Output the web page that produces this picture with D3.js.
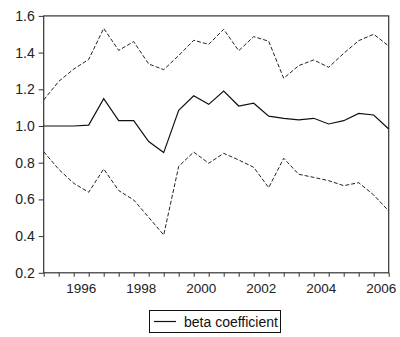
<!DOCTYPE html>
<html lang="en">
<head>
  <meta charset="UTF-8">
  <title>Beta coefficient</title>
  <script src="https://d3js.org/d3.v7.min.js"></script>
  <style>
    body {
      margin: 0;
      background: #fff;
      font-family: "Liberation Sans", Arial, sans-serif;
    }
    svg {
      display: block;
    }
    .axis path, .axis line {
      stroke: #333;
    }
    .axis text {
      fill: #222;
    }
  </style>
</head>
<body>
  <div id="chart"></div>

  <script>
    // semiannual observations, 1995H1 .. 2006H2
    const periods = ["1995H1","1995H2","1996H1","1996H2","1997H1","1997H2","1998H1","1998H2",
                     "1999H1","1999H2","2000H1","2000H2","2001H1","2001H2","2002H1","2002H2",
                     "2003H1","2003H2","2004H1","2004H2","2005H1","2005H2","2006H1","2006H2"];
    const beta  = [1.00, 1.00, 1.00, 1.005, 1.149, 1.029, 1.029, 0.915, 0.855, 1.085, 1.165, 1.118,
                   1.191, 1.109, 1.124, 1.054, 1.042, 1.033, 1.042, 1.011, 1.029, 1.069, 1.060, 0.984];
    const upper = [1.142, 1.243, 1.31, 1.363, 1.532, 1.412, 1.46, 1.338, 1.307, 1.384, 1.467, 1.445,
                   1.527, 1.41, 1.487, 1.462, 1.26, 1.329, 1.36, 1.32, 1.396, 1.465, 1.50, 1.436];
    const lower = [0.86, 0.764, 0.688, 0.639, 0.766, 0.648, 0.597, 0.502, 0.406, 0.78, 0.858, 0.797,
                   0.851, 0.815, 0.775, 0.664, 0.824, 0.737, 0.72, 0.702, 0.675, 0.691, 0.624, 0.537];
    const yTicks = [0.2, 0.4, 0.6, 0.8, 1.0, 1.2, 1.4, 1.6];
    const yearLabels = ["1996", "1998", "2000", "2002", "2004", "2006"];

    const w = 400;
    const h = 337;
    const plotLeft = 43.7, plotRight = 388.7, plotTop = 15.9, plotBottom = 272.8;

    const svg = d3.select("#chart")
                  .append("svg")
                  .attr("width", w)
                  .attr("height", h);

    const xScale = d3.scaleLinear()
                     .domain([0, periods.length - 1])
                     .range([plotLeft, plotRight]);

    const yScale = d3.scaleLinear()
                     .domain([0.2, 1.6])
                     .range([plotBottom, plotTop]);

    // frame
    svg.append("rect")
       .attr("x", plotLeft)
       .attr("y", plotTop)
       .attr("width", plotRight - plotLeft)
       .attr("height", plotBottom - plotTop)
       .attr("fill", "#fff")
       .attr("stroke", "#333")
       .attr("stroke-width", 1.2);

    // x axis: a tick at every observation, labels at the first half of even years
    svg.append("g")
       .attr("class", "axis")
       .attr("transform", `translate(0, ${plotBottom})`)
       .call(d3.axisBottom(xScale)
               .tickValues(d3.range(periods.length))
               .tickSize(4)
               .tickFormat(""))
       .call(g => g.select(".domain").remove());

    svg.append("g")
       .selectAll("text")
       .data(yearLabels)
       .enter()
       .append("text")
       .attr("x", d => xScale(periods.indexOf(d + "H1") + 0.5))
       .attr("y", plotBottom + 20.5)
       .attr("text-anchor", "middle")
       .attr("font-size", "13.5px")
       .attr("fill", "#222")
       .text(d => d);

    svg.append("g")
       .attr("class", "axis")
       .attr("transform", `translate(${plotLeft}, 0)`)
       .call(d3.axisLeft(yScale)
               .tickValues(yTicks)
               .tickSize(5)
               .tickPadding(4)
               .tickFormat(d3.format(".1f")))
       .call(g => g.select(".domain").remove())
       .call(g => g.selectAll("text").attr("font-size", "14px").attr("font-family", "Liberation Sans, Arial, sans-serif"));

    const line = d3.line()
                   .x((d, i) => xScale(i))
                   .y(d => yScale(d));

    svg.append("path")
       .datum(upper)
       .attr("d", line)
       .attr("fill", "none")
       .attr("stroke", "#222")
       .attr("stroke-width", 1)
       .attr("stroke-dasharray", "4,2");

    svg.append("path")
       .datum(lower)
       .attr("d", line)
       .attr("fill", "none")
       .attr("stroke", "#222")
       .attr("stroke-width", 1)
       .attr("stroke-dasharray", "4,2");

    svg.append("path")
       .datum(beta)
       .attr("d", line)
       .attr("fill", "none")
       .attr("stroke", "#111")
       .attr("stroke-width", 1.2);

    // legend
    const legend = svg.append("g");
    legend.append("rect")
          .attr("x", 149.5)
          .attr("y", 310.5)
          .attr("width", 131)
          .attr("height", 22)
          .attr("fill", "#fff")
          .attr("stroke", "#111");
    legend.append("line")
          .attr("x1", 154)
          .attr("x2", 176)
          .attr("y1", 321.5)
          .attr("y2", 321.5)
          .attr("stroke", "#111")
          .attr("stroke-width", 1.2);
    legend.append("text")
          .attr("x", 184)
          .attr("y", 326.5)
          .attr("font-size", "14px")
          .attr("fill", "#111")
          .text("beta coefficient");
  </script>
</body>
</html>
